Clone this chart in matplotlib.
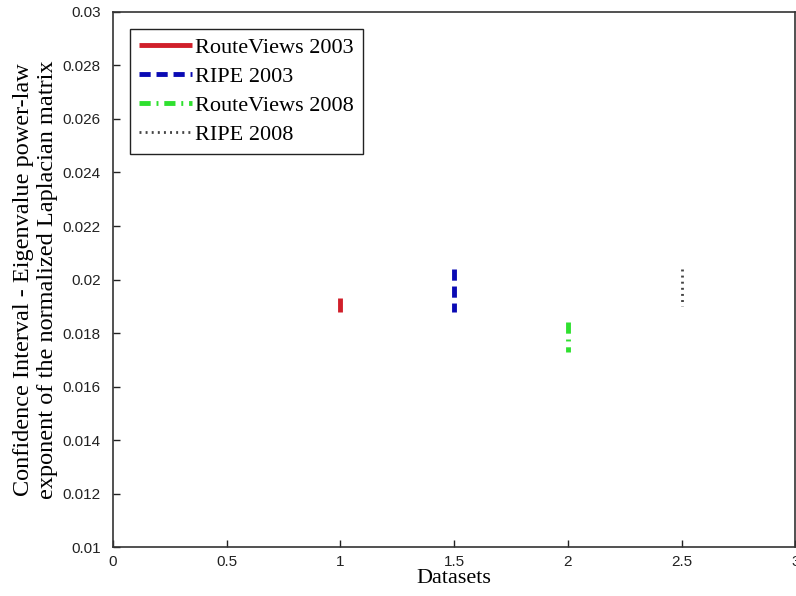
import matplotlib.pyplot as plt

# 各数据集的置信区间（下限、上限）
datasets = ['RouteViews 2003', 'RIPE 2003', 'RouteViews 2008', 'RIPE 2008']
x_pos = [1.0, 1.5, 2.0, 2.5]
ci_low = [0.0188, 0.0188, 0.0173, 0.0190]
ci_high = [0.0193, 0.0204, 0.0184, 0.0204]

colors = ['#d01f2a', '#0a0ab4', '#2fe02f', '#444444']
styles = ['-', (0, (2.3, 1.2)), (0, (2.3, 1.2, 0.4, 1.2)), (0, (0.7, 1.5))]
widths = [3.5, 3.5, 3.5, 2.0]

serif = ['Times New Roman', 'Liberation Serif', 'DejaVu Serif']
sans = ['Liberation Sans Narrow', 'Arial', 'Liberation Sans', 'DejaVu Sans']

fig = plt.figure(figsize=(7.96, 5.96), dpi=100)
ax = fig.add_axes([0.142, 0.082, 0.857, 0.898])

# 从上往下画，虚线样式从区间上端开始
for i in range(len(datasets)):
    ax.plot([x_pos[i], x_pos[i]], [ci_high[i], ci_low[i]], color=colors[i],
            linestyle=styles[i], linewidth=widths[i], label=datasets[i],
            solid_capstyle='butt', dash_capstyle='butt')

ax.set_xlim(0, 3)
ax.set_ylim(0.01, 0.03)
ax.set_xticks([0, 0.5, 1, 1.5, 2, 2.5, 3])
ax.set_xticklabels(['0', '0.5', '1', '1.5', '2', '2.5', '3'])
ax.set_yticks([0.01 + 0.002 * k for k in range(11)])
ax.set_yticklabels(['0.01', '0.012', '0.014', '0.016', '0.018', '0.02',
                    '0.022', '0.024', '0.026', '0.028', '0.03'])
ax.tick_params(direction='in', length=5, width=1, labelsize=11, colors='#222222')
ax.tick_params(axis='x', pad=6)
ax.tick_params(axis='y', pad=9)
for lab in ax.get_xticklabels() + ax.get_yticklabels():
    lab.set_family(sans)
for sp in ax.spines.values():
    sp.set_linewidth(1.2)
    sp.set_color('#333333')

ax.set_xlabel('Datasets', fontsize=16, family=serif, labelpad=0)
ax.set_ylabel('Confidence Interval - Eigenvalue power-law\nexponent of the normalized Laplacian matrix',
              fontsize=17.5, family=serif, linespacing=1.2, labelpad=3)

leg = ax.legend(loc='upper left', prop={'family': serif, 'size': 16},
                frameon=True, fancybox=False, framealpha=1, edgecolor='#222222',
                handlelength=2.4, handletextpad=0.15, labelspacing=0.38,
                borderpad=0.4, borderaxespad=0.75)
leg.get_frame().set_linewidth(1.0)

fig.savefig('out.png', dpi=100)
